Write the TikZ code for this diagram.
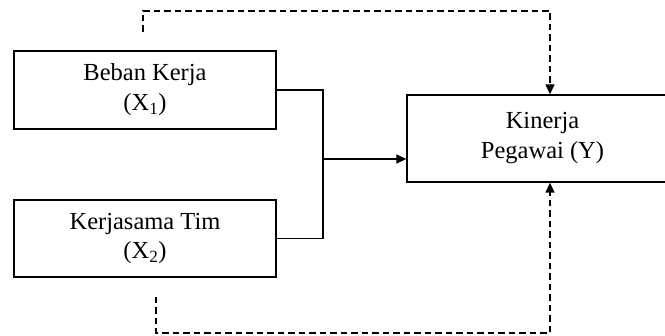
\documentclass[tikz,border=0pt]{standalone}
\usepackage{fontspec}
\setmainfont{Liberation Serif}
\usetikzlibrary{arrows.meta}
\begin{document}
\begin{tikzpicture}[x=1pt,y=-1pt,
  varbox/.style={draw,line width=1.3pt,rectangle,align=center,inner sep=0pt,
    font=\fontsize{24.5}{30}\selectfont},
  link/.style={line width=1.3pt},
  tip/.style={-{Triangle[length=10pt,width=9pt]}},
  dashlink/.style={line width=1.3pt,dash pattern=on 6.5pt off 4pt}]
  \useasboundingbox (0,0) rectangle (665,336);
  \clip (0,0) rectangle (665,336);

  % variable boxes
  \node[varbox,minimum width=262pt,minimum height=78pt] (x1) at (145,90)
    {Beban Kerja\\(X\textsubscript{1})};
  \node[varbox,minimum width=262pt,minimum height=77pt] (x2) at (145,238.5)
    {Kerjasama Tim\\(X\textsubscript{2})};
  \node[varbox,minimum width=271pt,minimum height=87pt] (y) at (542.5,138.5)
    {Kinerja\\Pegawai (Y)};

  % joint effect of X1 and X2
  \coordinate (j) at (323,159);
  \draw[link] (x1.east) -- (x1.east -| j) -- (x2.east -| j) -- (x2.east);
  \draw[link,tip] (j) -- (j -| y.west);

  % partial effects (dashed)
  \coordinate (t0) at (143,32);
  \coordinate (t1) at (143,11);
  \coordinate (t2) at (550,11);
  \draw[dashlink,tip] (t0) -- (t1) -- (t2) -- (t2 |- y.north);

  \coordinate (b0) at (156,297);
  \coordinate (b1) at (156,333);
  \coordinate (b2) at (550,333);
  \draw[dashlink,tip] (b0) -- (b1) -- (b2) -- (b2 |- y.south);
\end{tikzpicture}
\end{document}
